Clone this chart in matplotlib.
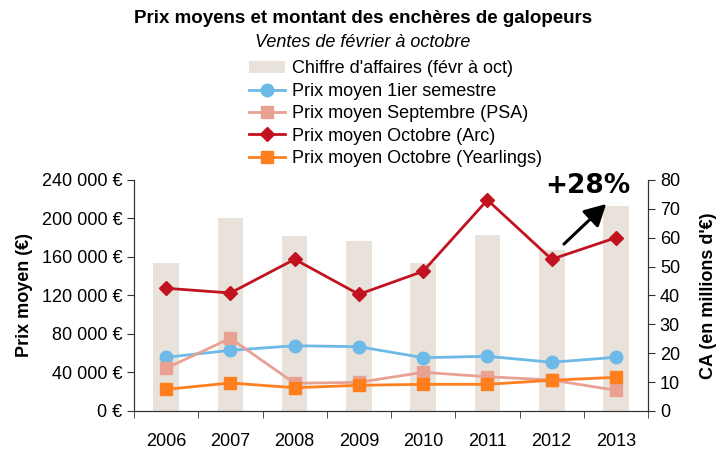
import numpy as np
import matplotlib.pyplot as plt
from matplotlib.ticker import FuncFormatter

plt.rcParams['font.family'] = ['Liberation Sans', 'DejaVu Sans']

years = ['2006', '2007', '2008', '2009', '2010', '2011', '2012', '2013']
ca = [51.2, 66.7, 60.6, 58.8, 51.2, 60.9, 55.7, 71.0]
prix_1er = [55800, 63000, 67800, 66800, 55400, 56800, 50600, 55800]
prix_psa = [44400, 75500, 28800, 29800, 40200, 35600, 32200, 21500]
prix_arc = [127500, 122600, 157600, 121200, 145100, 219200, 157600, 180000]
prix_yearl = [22500, 29100, 24200, 26700, 27700, 27700, 31900, 35000]

x = np.arange(len(years))

fig = plt.figure(figsize=(7.26, 4.51), dpi=100)
ax = fig.add_axes([0.1846, 0.0887, 0.708, 0.5123])
ax2 = ax.twinx()

# bars on the right axis, behind the lines
bars = ax2.bar(x, ca, width=0.4, color='#E8E2DA', label="Chiffre d'affaires (févr à oct)")
ax.set_zorder(ax2.get_zorder() + 1)
ax.patch.set_visible(False)

l1, = ax.plot(x, prix_1er, color='#6DB9E8', marker='o', markersize=9, lw=2, label='Prix moyen 1ier semestre')
l2, = ax.plot(x, prix_psa, color='#E8A193', marker='s', markersize=8, lw=2, label='Prix moyen Septembre (PSA)')
l3, = ax.plot(x, prix_arc, color='#C2121F', marker='D', markersize=7, lw=2, label='Prix moyen Octobre (Arc)')
l4, = ax.plot(x, prix_yearl, color='#FF7F1E', marker='s', markersize=9, lw=2, label='Prix moyen Octobre (Yearlings)')

ax.set_xlim(-0.5, len(years) - 0.5)
ax.set_ylim(0, 240000)
ax.set_yticks(np.arange(0, 240001, 40000))
ax.yaxis.set_major_formatter(FuncFormatter(lambda v, p: '{:,.0f} €'.format(v).replace(',', ' ')))
ax2.set_ylim(0, 80)
ax2.set_yticks(np.arange(0, 81, 10))

ax.set_xticks(x)
ax.set_xticklabels(years)
ax.set_xticks(np.arange(-0.5, len(years)), minor=True)
ax.tick_params(axis='x', which='major', length=0, pad=16, labelsize=13)
ax.tick_params(axis='x', which='minor', length=5, color='#333333')
ax.tick_params(axis='y', labelsize=13, length=5, color='#333333')
ax2.tick_params(axis='y', labelsize=13, length=5, color='#333333')

for a in (ax, ax2):
    a.spines['top'].set_visible(False)
    for s in ('left', 'right', 'bottom'):
        a.spines[s].set_color('#333333')

ax.set_ylabel('Prix moyen (€)', fontsize=13, fontweight='bold', labelpad=6)
ax2.set_ylabel("CA (en millions d'€)", fontsize=13, fontweight='bold', labelpad=14)

# annotation
ax.annotate('', xy=(6.88, 217000), xytext=(6.16, 171400),
            arrowprops=dict(arrowstyle='-|>,head_width=0.7,head_length=1.3', color='black', lw=2.2))
ax.text(6.57, 234000, '+28%', fontsize=19, fontweight='bold', family='DejaVu Sans', ha='center', va='center')

fig.text(0.5, 0.96, 'Prix moyens et montant des enchères de galopeurs', ha='center', va='center',
         fontsize=13.5, fontweight='bold')
fig.text(0.5, 0.905, 'Ventes de février à octobre', ha='center', va='center', fontsize=13, style='italic')

fig.legend(handles=[bars, l1, l2, l3, l4], loc='upper center', bbox_to_anchor=(0.545, 0.886),
           frameon=False, fontsize=13, handlelength=2.0, handletextpad=0.4, labelspacing=0.3,
           borderpad=0)

plt.savefig('out.png', dpi=100)
